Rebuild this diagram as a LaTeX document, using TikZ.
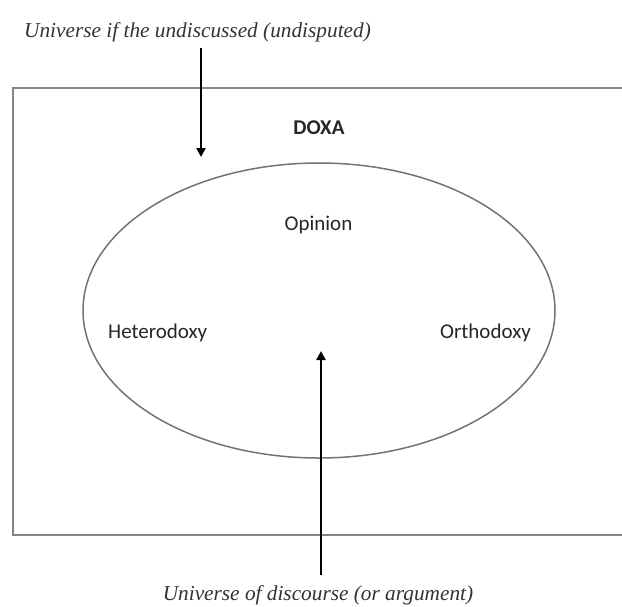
\documentclass[tikz,border=0pt]{standalone}
\usepackage{fontspec}
\setmainfont{Liberation Serif}
\setsansfont{Carlito}
\usetikzlibrary{arrows.meta,shapes.geometric}
\tikzset{
    cadre/.style={draw=black!48, line width=2pt},
    bulle/.style={draw=black!55, line width=1.5pt, ellipse, inner sep=0pt},
    mot/.style={font=\sffamily\fontsize{21}{25}\selectfont, text=black!85, inner sep=0pt},
    legende/.style={font=\itshape\fontsize{21.3}{25}\selectfont, text=black!80, inner sep=0pt},
    fleche/.style={line width=2.6pt, -{Triangle[length=9pt,width=9pt]}},
  }
\begin{document}
\begin{tikzpicture}[x=1pt,y=-1pt]
				  %cadre ouvert a droite, ellipse au centre
				  %fleches : coordonnees nommees
				  \useasboundingbox (0,0) rectangle (622,606);
				  \draw[cadre] (622,88) -| (13,535) -- (622,535);
				  \node[bulle, minimum width=472pt, minimum height=295pt] (E) at (319,310.5) {};
				  \node[legende, anchor=base west] (undis) at (24,37) {Universe if the undiscussed (undisputed)};
				  \node[legende, anchor=base] (disc) at (318,600) {Universe of discourse (or argument)};
				  \node[mot, font=\sffamily\bfseries\fontsize{21}{25}\selectfont, anchor=base] (doxa) at (319,134) {DOXA};
				  \node[mot, anchor=base] (opin) at (318.5,230) {Opinion};
				  \node[mot, anchor=base west] (hetero) at (108,338) {Heterodoxy};
				  \node[mot, anchor=base west] (ortho) at (440,338) {Orthodoxy};
				  \coordinate (H1) at (201,48);
				  \coordinate (H2) at (201,157);
				  \coordinate (B1) at (321,575);
				  \coordinate (B2) at (321,351);
				  \draw[fleche] (H1) -- (H2);
				  \draw[fleche] (B1) -- (B2);
				  \end{tikzpicture}
\end{document}
